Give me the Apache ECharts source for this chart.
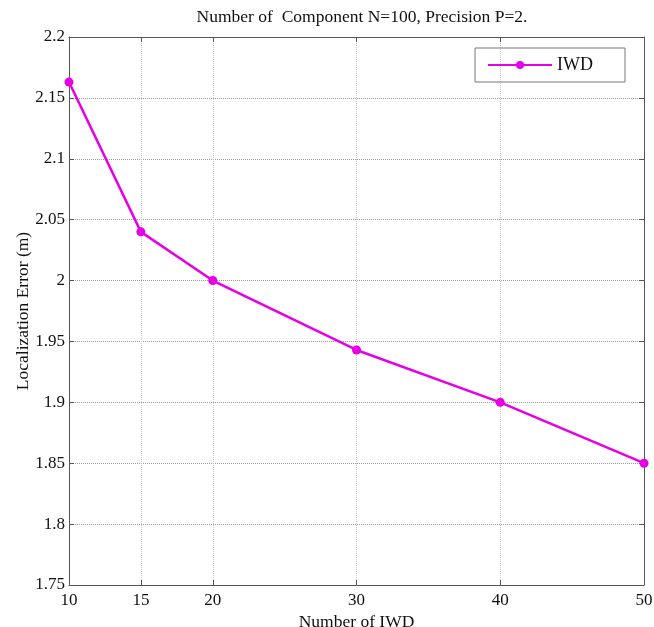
<!DOCTYPE html>
<html><head><meta charset="utf-8">
<script src="https://cdn.jsdelivr.net/npm/echarts@6/dist/echarts.min.js"></script>
<style>html,body{margin:0;padding:0;background:#fff}#c{width:654px;height:627px}</style>
</head><body><div id="c"></div>
<script>
const xValues = [10, 15, 20, 30, 40, 50];
const iwdErrors = [2.163, 2.040, 2.000, 1.943, 1.900, 1.850];
const xTicks = [10, 15, 20, 30, 40, 50];
const yTicks = [1.75, 1.8, 1.85, 1.9, 1.95, 2, 2.05, 2.1, 2.15, 2.2];

const font = 'Liberation Serif';
const chart = echarts.init(document.getElementById('c'));
const xBase = {
  type: 'value', min: 10, max: 50,
  axisLine: {show: true, lineStyle: {color: '#555', width: 1}},
  axisTick: {show: true, inside: true, length: 5, customValues: xTicks, lineStyle: {color: '#555'}},
  splitLine: {show: false}
};
const yBase = {
  type: 'value', min: 1.75, max: 2.2, interval: 0.05,
  axisLine: {show: true, lineStyle: {color: '#555', width: 1}},
  axisTick: {show: true, inside: true, length: 5, lineStyle: {color: '#555'}},
  splitLine: {show: false}
};
chart.setOption({
  animation: false,
  title: {text: 'Number of  Component N=100, Precision P=2.', left: 357, top: 3, textAlign: 'center',
    textStyle: {fontFamily: font, fontSize: 17.5, fontWeight: 'normal', color: '#111'}},
  legend: {
    data: ['IWD'], right: 29, top: 48, orient: 'vertical',
    borderColor: '#777', borderWidth: 1, borderRadius: 0, padding: [8, 32, 8, 12],
    itemWidth: 64, itemHeight: 10, itemGap: 0,
    textStyle: {fontFamily: font, fontSize: 18, color: '#111'}
  },
  grid: {left: 69, right: 10, top: 37, bottom: 42, containLabel: false, outerBoundsMode: 'none'},
  xAxis: [
    Object.assign({}, xBase, {
      position: 'bottom',
      name: 'Number of IWD', nameLocation: 'middle', nameGap: 23,
      nameTextStyle: {fontFamily: font, fontSize: 17.5, color: '#111'},
      axisLabel: {show: true, customValues: xTicks, fontFamily: font, fontSize: 17, color: '#111', margin: 7},
      splitLine: {show: true, lineStyle: {color: '#ccc', type: 'dotted', width: 1}}
    }),
    Object.assign({}, xBase, {position: 'top', axisLabel: {show: false}})
  ],
  yAxis: [
    Object.assign({}, yBase, {
      position: 'left',
      name: 'Localization Error (m)', nameLocation: 'middle', nameGap: 37, nameRotate: 90,
      nameMoveOverlap: false,
      nameTextStyle: {fontFamily: font, fontSize: 17.5, color: '#111'},
      axisLabel: {show: true, fontFamily: font, fontSize: 17, color: '#111', margin: 4,
        formatter: v => String(parseFloat(v.toFixed(2)))},
      splitLine: {show: true, lineStyle: {color: '#999', type: 'dotted', width: 1}}
    }),
    Object.assign({}, yBase, {position: 'right', axisLabel: {show: false}})
  ],
  series: [{
    name: 'IWD', type: 'line', data: xValues.map((x, i) => [x, iwdErrors[i]]),
    color: '#e600e6', symbol: 'circle', symbolSize: 9,
    lineStyle: {width: 2.5, color: '#e600e6'},
    itemStyle: {color: '#e600e6'}
  }]
});
</script></body></html>
